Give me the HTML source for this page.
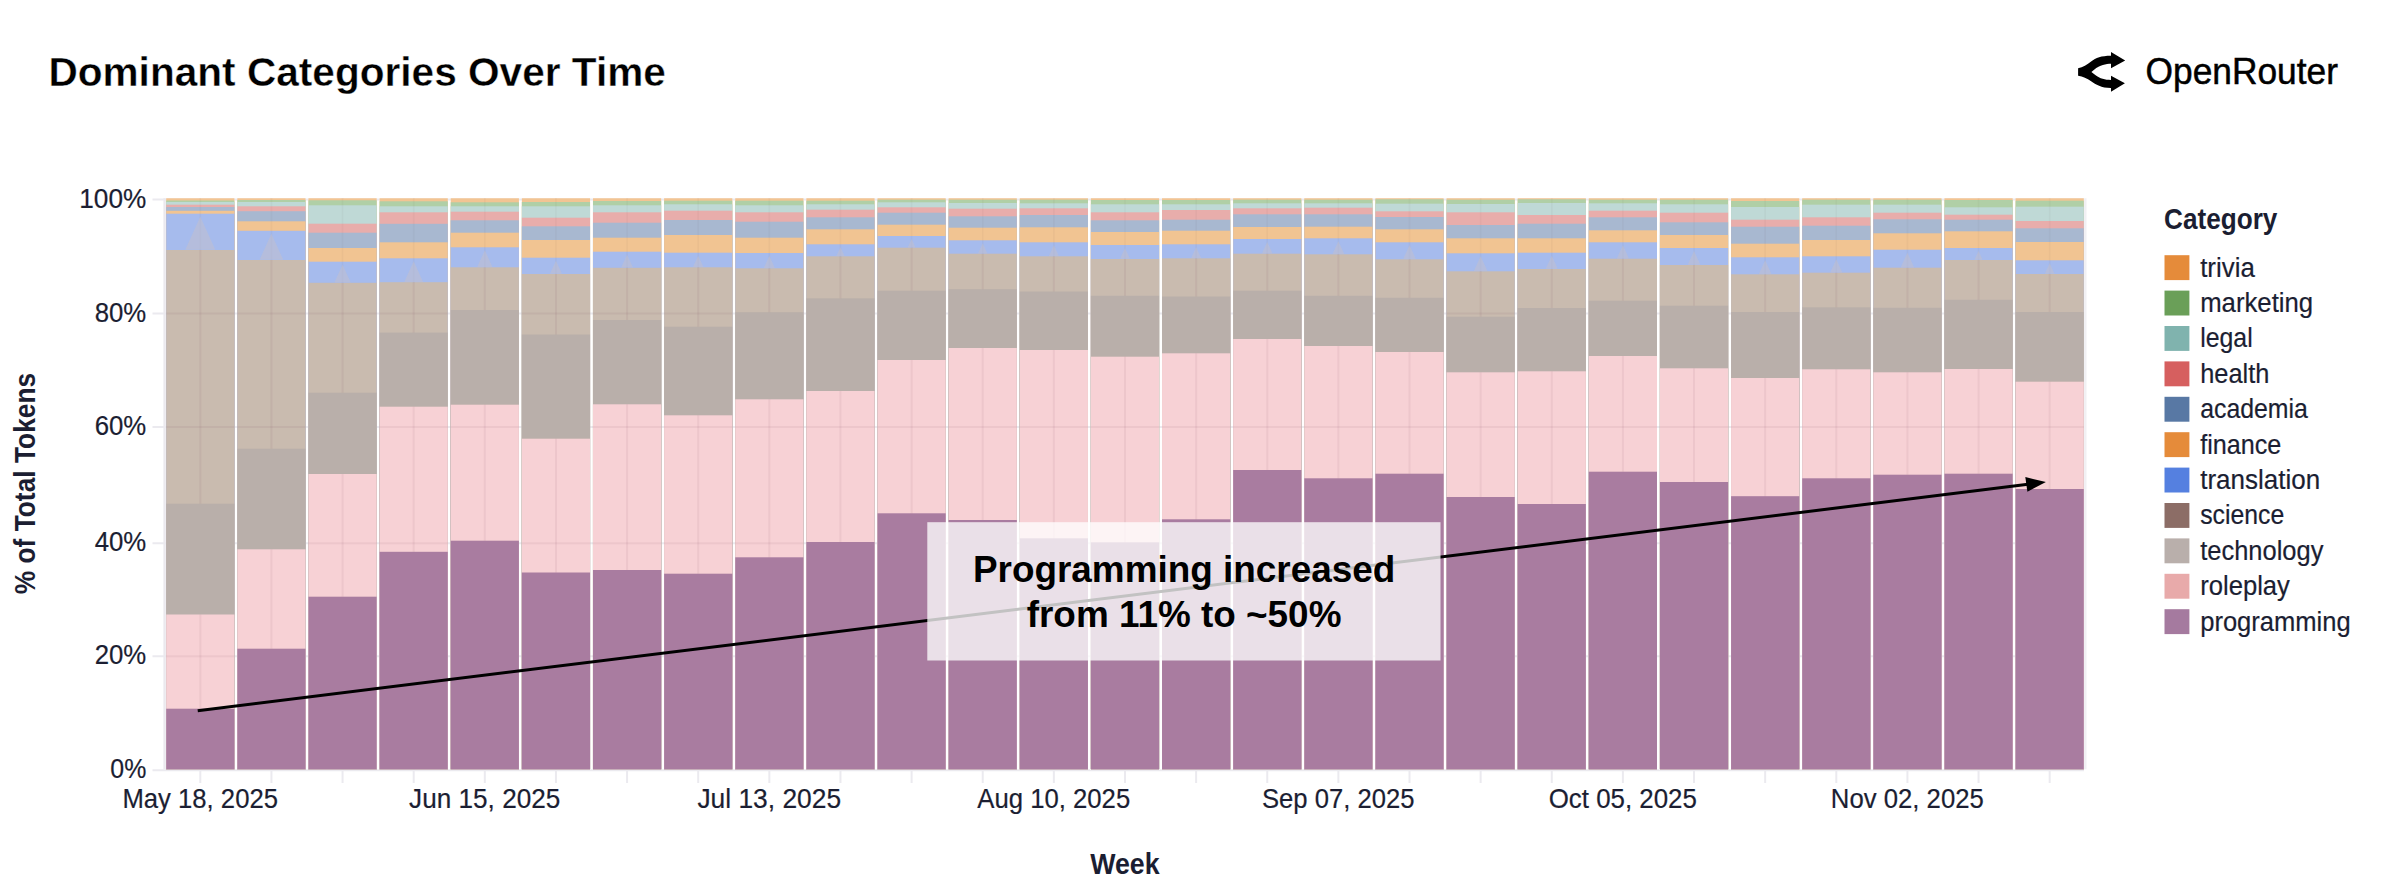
<!DOCTYPE html>
<html lang="en"><head><meta charset="utf-8"><title>Dominant Categories Over Time</title>
<style>
html,body{margin:0;padding:0;background:#fff;}
body{width:2386px;height:896px;overflow:hidden;position:relative;font-family:"Liberation Sans",sans-serif;}
svg{position:absolute;left:0;top:0;display:block;}
text{font-family:"Liberation Sans",sans-serif;}
.ax{fill:#1b1e32;font-size:26.9px;stroke:#1b1e32;stroke-width:0.2px;}
.axb{fill:#1b1e32;font-size:29.5px;font-weight:bold;}
</style></head><body>
<svg width="2386" height="896" viewBox="0 0 2386 896">
<rect x="0" y="0" width="2386" height="896" fill="#ffffff"/>
<text id="title" x="48.4" y="86.3" font-size="41.2" font-weight="bold" fill="#000" stroke="#fff" stroke-width="0.4" textLength="617.5" lengthAdjust="spacingAndGlyphs">Dominant Categories Over Time</text>
<g id="logo" fill="#000">
<path d="M2078.1 68.2 C2083 67.4 2087 64.8 2091.1 61.6 C2096 57.9 2101 55.85 2111 55.85 L2111 51.9 L2125.2 60.4 L2111 68.2 L2111 63.8 C2106 63.8 2100 65 2094.1 69.7 L2091.4 72.1 L2095.3 75.1 C2100 78.8 2105 80 2111 80 L2111 75.7 L2124.9 83.3 L2111 91.7 L2111 87.9 C2101 87.9 2096 84.6 2091.1 81.2 C2087 78.4 2083 76.4 2078.1 75.7 Z"/>
</g>
<text id="brand" x="2145.6" y="83.5" font-size="36.4" fill="#000" stroke="#000" stroke-width="0.5" textLength="192.3" lengthAdjust="spacingAndGlyphs">OpenRouter</text>
<g stroke="#ebeaef" stroke-width="2">
<line x1="152.5" x2="2084" y1="199.4" y2="199.4"/>
<line x1="152.5" x2="2084" y1="313.4" y2="313.4"/>
<line x1="152.5" x2="2084" y1="426.9" y2="426.9"/>
<line x1="152.5" x2="2084" y1="543.2" y2="543.2"/>
<line x1="152.5" x2="2084" y1="656.2" y2="656.2"/>
<line x1="152.5" x2="2084" y1="770.3" y2="770.3"/>
<line x1="200.3" x2="200.3" y1="198.2" y2="783"/>
<line x1="271.43" x2="271.43" y1="198.2" y2="783"/>
<line x1="342.56" x2="342.56" y1="198.2" y2="783"/>
<line x1="413.69" x2="413.69" y1="198.2" y2="783"/>
<line x1="484.82" x2="484.82" y1="198.2" y2="783"/>
<line x1="555.95" x2="555.95" y1="198.2" y2="783"/>
<line x1="627.08" x2="627.08" y1="198.2" y2="783"/>
<line x1="698.21" x2="698.21" y1="198.2" y2="783"/>
<line x1="769.34" x2="769.34" y1="198.2" y2="783"/>
<line x1="840.47" x2="840.47" y1="198.2" y2="783"/>
<line x1="911.6" x2="911.6" y1="198.2" y2="783"/>
<line x1="982.73" x2="982.73" y1="198.2" y2="783"/>
<line x1="1053.86" x2="1053.86" y1="198.2" y2="783"/>
<line x1="1124.99" x2="1124.99" y1="198.2" y2="783"/>
<line x1="1196.12" x2="1196.12" y1="198.2" y2="783"/>
<line x1="1267.25" x2="1267.25" y1="198.2" y2="783"/>
<line x1="1338.38" x2="1338.38" y1="198.2" y2="783"/>
<line x1="1409.51" x2="1409.51" y1="198.2" y2="783"/>
<line x1="1480.64" x2="1480.64" y1="198.2" y2="783"/>
<line x1="1551.77" x2="1551.77" y1="198.2" y2="783"/>
<line x1="1622.9" x2="1622.9" y1="198.2" y2="783"/>
<line x1="1694.03" x2="1694.03" y1="198.2" y2="783"/>
<line x1="1765.16" x2="1765.16" y1="198.2" y2="783"/>
<line x1="1836.29" x2="1836.29" y1="198.2" y2="783"/>
<line x1="1907.42" x2="1907.42" y1="198.2" y2="783"/>
<line x1="1978.55" x2="1978.55" y1="198.2" y2="783"/>
<line x1="2049.68" x2="2049.68" y1="198.2" y2="783"/>
<line x1="164.6" x2="164.6" y1="198.2" y2="769.2" stroke="#ebe9ee" stroke-width="2.4"/>
<line x1="2085.3" x2="2085.3" y1="198.2" y2="769.2" stroke="#f1f0f3" stroke-width="2.4"/>
</g>
<defs>
<clipPath id="c0"><rect x="166.2" y="198.2" width="68.2" height="571"/></clipPath>
<clipPath id="c1"><rect x="237.33" y="198.2" width="68.2" height="571"/></clipPath>
<clipPath id="c2"><rect x="308.46" y="198.2" width="68.2" height="571"/></clipPath>
<clipPath id="c3"><rect x="379.59" y="198.2" width="68.2" height="571"/></clipPath>
<clipPath id="c4"><rect x="450.72" y="198.2" width="68.2" height="571"/></clipPath>
<clipPath id="c5"><rect x="521.85" y="198.2" width="68.2" height="571"/></clipPath>
<clipPath id="c6"><rect x="592.98" y="198.2" width="68.2" height="571"/></clipPath>
<clipPath id="c7"><rect x="664.11" y="198.2" width="68.2" height="571"/></clipPath>
<clipPath id="c8"><rect x="735.24" y="198.2" width="68.2" height="571"/></clipPath>
<clipPath id="c9"><rect x="806.37" y="198.2" width="68.2" height="571"/></clipPath>
<clipPath id="c10"><rect x="877.5" y="198.2" width="68.2" height="571"/></clipPath>
<clipPath id="c11"><rect x="948.63" y="198.2" width="68.2" height="571"/></clipPath>
<clipPath id="c12"><rect x="1019.76" y="198.2" width="68.2" height="571"/></clipPath>
<clipPath id="c13"><rect x="1090.89" y="198.2" width="68.2" height="571"/></clipPath>
<clipPath id="c14"><rect x="1162.02" y="198.2" width="68.2" height="571"/></clipPath>
<clipPath id="c15"><rect x="1233.15" y="198.2" width="68.2" height="571"/></clipPath>
<clipPath id="c16"><rect x="1304.28" y="198.2" width="68.2" height="571"/></clipPath>
<clipPath id="c17"><rect x="1375.41" y="198.2" width="68.2" height="571"/></clipPath>
<clipPath id="c18"><rect x="1446.54" y="198.2" width="68.2" height="571"/></clipPath>
<clipPath id="c19"><rect x="1517.67" y="198.2" width="68.2" height="571"/></clipPath>
<clipPath id="c20"><rect x="1588.8" y="198.2" width="68.2" height="571"/></clipPath>
<clipPath id="c21"><rect x="1659.93" y="198.2" width="68.2" height="571"/></clipPath>
<clipPath id="c22"><rect x="1731.06" y="198.2" width="68.2" height="571"/></clipPath>
<clipPath id="c23"><rect x="1802.19" y="198.2" width="68.2" height="571"/></clipPath>
<clipPath id="c24"><rect x="1873.32" y="198.2" width="68.2" height="571"/></clipPath>
<clipPath id="c25"><rect x="1944.45" y="198.2" width="68.2" height="571"/></clipPath>
<clipPath id="c26"><rect x="2015.58" y="198.2" width="68.2" height="571"/></clipPath>
</defs>
<g id="bars">
<g clip-path="url(#c0)">
<rect x="163.2" y="196.2" width="74.2" height="575" fill="#f2c493"/>
<rect x="163.2" y="200.5" width="74.2" height="570.7" fill="#b0cfa6"/>
<rect x="163.2" y="202" width="74.2" height="569.2" fill="#bfd9d6"/>
<rect x="163.2" y="204.7" width="74.2" height="566.5" fill="#e8adab"/>
<rect x="163.2" y="207" width="74.2" height="564.2" fill="#a8b8d0"/>
<rect x="163.2" y="210.8" width="74.2" height="560.4" fill="#f1c492"/>
<rect x="163.2" y="213.7" width="74.2" height="557.5" fill="#a6bbed"/>
<rect x="163.2" y="250" width="74.2" height="521.2" fill="#c9bbaf"/>
<rect x="163.2" y="503.7" width="74.2" height="267.5" fill="#b9afaa"/>
<rect x="163.2" y="614.5" width="74.2" height="156.7" fill="#f7d1d5"/>
<rect x="163.2" y="708.7" width="74.2" height="62.5" fill="#a97ca0"/>
</g>
<g clip-path="url(#c1)">
<rect x="234.33" y="196.2" width="74.2" height="575" fill="#f2c493"/>
<rect x="234.33" y="200" width="74.2" height="571.2" fill="#b0cfa6"/>
<rect x="234.33" y="202" width="74.2" height="569.2" fill="#bfd9d6"/>
<rect x="234.33" y="206.3" width="74.2" height="564.9" fill="#e8adab"/>
<rect x="234.33" y="211.2" width="74.2" height="560" fill="#a8b8d0"/>
<rect x="234.33" y="221.3" width="74.2" height="549.9" fill="#f1c492"/>
<rect x="234.33" y="230.8" width="74.2" height="540.4" fill="#a6bbed"/>
<rect x="234.33" y="260" width="74.2" height="511.2" fill="#c9bbaf"/>
<rect x="234.33" y="448.7" width="74.2" height="322.5" fill="#b9afaa"/>
<rect x="234.33" y="549.3" width="74.2" height="221.9" fill="#f7d1d5"/>
<rect x="234.33" y="648.7" width="74.2" height="122.5" fill="#a97ca0"/>
</g>
<g clip-path="url(#c2)">
<rect x="305.46" y="196.2" width="74.2" height="575" fill="#f2c493"/>
<rect x="305.46" y="200.3" width="74.2" height="570.9" fill="#b0cfa6"/>
<rect x="305.46" y="205.3" width="74.2" height="565.9" fill="#bfd9d6"/>
<rect x="305.46" y="223.7" width="74.2" height="547.5" fill="#e8adab"/>
<rect x="305.46" y="232.7" width="74.2" height="538.5" fill="#a8b8d0"/>
<rect x="305.46" y="248" width="74.2" height="523.2" fill="#f1c492"/>
<rect x="305.46" y="261.7" width="74.2" height="509.5" fill="#a6bbed"/>
<rect x="305.46" y="282.8" width="74.2" height="488.4" fill="#c9bbaf"/>
<rect x="305.46" y="392.7" width="74.2" height="378.5" fill="#b9afaa"/>
<rect x="305.46" y="474" width="74.2" height="297.2" fill="#f7d1d5"/>
<rect x="305.46" y="596.7" width="74.2" height="174.5" fill="#a97ca0"/>
</g>
<g clip-path="url(#c3)">
<rect x="376.59" y="196.2" width="74.2" height="575" fill="#f2c493"/>
<rect x="376.59" y="201.3" width="74.2" height="569.9" fill="#b0cfa6"/>
<rect x="376.59" y="206.3" width="74.2" height="564.9" fill="#bfd9d6"/>
<rect x="376.59" y="212.3" width="74.2" height="558.9" fill="#e8adab"/>
<rect x="376.59" y="223.8" width="74.2" height="547.4" fill="#a8b8d0"/>
<rect x="376.59" y="242.3" width="74.2" height="528.9" fill="#f1c492"/>
<rect x="376.59" y="258.3" width="74.2" height="512.9" fill="#a6bbed"/>
<rect x="376.59" y="282.2" width="74.2" height="489" fill="#c9bbaf"/>
<rect x="376.59" y="332.6" width="74.2" height="438.6" fill="#b9afaa"/>
<rect x="376.59" y="406.7" width="74.2" height="364.5" fill="#f7d1d5"/>
<rect x="376.59" y="551.8" width="74.2" height="219.4" fill="#a97ca0"/>
</g>
<g clip-path="url(#c4)">
<rect x="447.72" y="196.2" width="74.2" height="575" fill="#f2c493"/>
<rect x="447.72" y="202.3" width="74.2" height="568.9" fill="#b0cfa6"/>
<rect x="447.72" y="206.3" width="74.2" height="564.9" fill="#bfd9d6"/>
<rect x="447.72" y="211.7" width="74.2" height="559.5" fill="#e8adab"/>
<rect x="447.72" y="220.3" width="74.2" height="550.9" fill="#a8b8d0"/>
<rect x="447.72" y="232.7" width="74.2" height="538.5" fill="#f1c492"/>
<rect x="447.72" y="247.3" width="74.2" height="523.9" fill="#a6bbed"/>
<rect x="447.72" y="267.3" width="74.2" height="503.9" fill="#c9bbaf"/>
<rect x="447.72" y="310" width="74.2" height="461.2" fill="#b9afaa"/>
<rect x="447.72" y="404.7" width="74.2" height="366.5" fill="#f7d1d5"/>
<rect x="447.72" y="540.7" width="74.2" height="230.5" fill="#a97ca0"/>
</g>
<g clip-path="url(#c5)">
<rect x="518.85" y="196.2" width="74.2" height="575" fill="#f2c493"/>
<rect x="518.85" y="202" width="74.2" height="569.2" fill="#b0cfa6"/>
<rect x="518.85" y="206.3" width="74.2" height="564.9" fill="#bfd9d6"/>
<rect x="518.85" y="217.7" width="74.2" height="553.5" fill="#e8adab"/>
<rect x="518.85" y="226.3" width="74.2" height="544.9" fill="#a8b8d0"/>
<rect x="518.85" y="240" width="74.2" height="531.2" fill="#f1c492"/>
<rect x="518.85" y="257.7" width="74.2" height="513.5" fill="#a6bbed"/>
<rect x="518.85" y="274" width="74.2" height="497.2" fill="#c9bbaf"/>
<rect x="518.85" y="334.5" width="74.2" height="436.7" fill="#b9afaa"/>
<rect x="518.85" y="438.7" width="74.2" height="332.5" fill="#f7d1d5"/>
<rect x="518.85" y="572.5" width="74.2" height="198.7" fill="#a97ca0"/>
</g>
<g clip-path="url(#c6)">
<rect x="589.98" y="196.2" width="74.2" height="575" fill="#f2c493"/>
<rect x="589.98" y="201" width="74.2" height="570.2" fill="#b0cfa6"/>
<rect x="589.98" y="205.3" width="74.2" height="565.9" fill="#bfd9d6"/>
<rect x="589.98" y="212.3" width="74.2" height="558.9" fill="#e8adab"/>
<rect x="589.98" y="222.7" width="74.2" height="548.5" fill="#a8b8d0"/>
<rect x="589.98" y="237.7" width="74.2" height="533.5" fill="#f1c492"/>
<rect x="589.98" y="251.7" width="74.2" height="519.5" fill="#a6bbed"/>
<rect x="589.98" y="267.8" width="74.2" height="503.4" fill="#c9bbaf"/>
<rect x="589.98" y="320" width="74.2" height="451.2" fill="#b9afaa"/>
<rect x="589.98" y="404.3" width="74.2" height="366.9" fill="#f7d1d5"/>
<rect x="589.98" y="570" width="74.2" height="201.2" fill="#a97ca0"/>
</g>
<g clip-path="url(#c7)">
<rect x="661.11" y="196.2" width="74.2" height="575" fill="#f2c493"/>
<rect x="661.11" y="200.7" width="74.2" height="570.5" fill="#b0cfa6"/>
<rect x="661.11" y="204.3" width="74.2" height="566.9" fill="#bfd9d6"/>
<rect x="661.11" y="210.7" width="74.2" height="560.5" fill="#e8adab"/>
<rect x="661.11" y="220" width="74.2" height="551.2" fill="#a8b8d0"/>
<rect x="661.11" y="235" width="74.2" height="536.2" fill="#f1c492"/>
<rect x="661.11" y="252.7" width="74.2" height="518.5" fill="#a6bbed"/>
<rect x="661.11" y="267.3" width="74.2" height="503.9" fill="#c9bbaf"/>
<rect x="661.11" y="326.7" width="74.2" height="444.5" fill="#b9afaa"/>
<rect x="661.11" y="415.3" width="74.2" height="355.9" fill="#f7d1d5"/>
<rect x="661.11" y="573.7" width="74.2" height="197.5" fill="#a97ca0"/>
</g>
<g clip-path="url(#c8)">
<rect x="732.24" y="196.2" width="74.2" height="575" fill="#f2c493"/>
<rect x="732.24" y="200.7" width="74.2" height="570.5" fill="#b0cfa6"/>
<rect x="732.24" y="205.3" width="74.2" height="565.9" fill="#bfd9d6"/>
<rect x="732.24" y="212.3" width="74.2" height="558.9" fill="#e8adab"/>
<rect x="732.24" y="221.7" width="74.2" height="549.5" fill="#a8b8d0"/>
<rect x="732.24" y="237.7" width="74.2" height="533.5" fill="#f1c492"/>
<rect x="732.24" y="253" width="74.2" height="518.2" fill="#a6bbed"/>
<rect x="732.24" y="268.3" width="74.2" height="502.9" fill="#c9bbaf"/>
<rect x="732.24" y="312.2" width="74.2" height="459" fill="#b9afaa"/>
<rect x="732.24" y="399.3" width="74.2" height="371.9" fill="#f7d1d5"/>
<rect x="732.24" y="557.3" width="74.2" height="213.9" fill="#a97ca0"/>
</g>
<g clip-path="url(#c9)">
<rect x="803.37" y="196.2" width="74.2" height="575" fill="#f2c493"/>
<rect x="803.37" y="200.7" width="74.2" height="570.5" fill="#b0cfa6"/>
<rect x="803.37" y="204.3" width="74.2" height="566.9" fill="#bfd9d6"/>
<rect x="803.37" y="209.7" width="74.2" height="561.5" fill="#e8adab"/>
<rect x="803.37" y="217.3" width="74.2" height="553.9" fill="#a8b8d0"/>
<rect x="803.37" y="229.3" width="74.2" height="541.9" fill="#f1c492"/>
<rect x="803.37" y="244.3" width="74.2" height="526.9" fill="#a6bbed"/>
<rect x="803.37" y="256.3" width="74.2" height="514.9" fill="#c9bbaf"/>
<rect x="803.37" y="298.3" width="74.2" height="472.9" fill="#b9afaa"/>
<rect x="803.37" y="391" width="74.2" height="380.2" fill="#f7d1d5"/>
<rect x="803.37" y="542" width="74.2" height="229.2" fill="#a97ca0"/>
</g>
<g clip-path="url(#c10)">
<rect x="874.5" y="196.2" width="74.2" height="575" fill="#f2c493"/>
<rect x="874.5" y="199.7" width="74.2" height="571.5" fill="#b0cfa6"/>
<rect x="874.5" y="202.3" width="74.2" height="568.9" fill="#bfd9d6"/>
<rect x="874.5" y="207.3" width="74.2" height="563.9" fill="#e8adab"/>
<rect x="874.5" y="212.7" width="74.2" height="558.5" fill="#a8b8d0"/>
<rect x="874.5" y="224.7" width="74.2" height="546.5" fill="#f1c492"/>
<rect x="874.5" y="236" width="74.2" height="535.2" fill="#a6bbed"/>
<rect x="874.5" y="247.7" width="74.2" height="523.5" fill="#c9bbaf"/>
<rect x="874.5" y="290.7" width="74.2" height="480.5" fill="#b9afaa"/>
<rect x="874.5" y="360" width="74.2" height="411.2" fill="#f7d1d5"/>
<rect x="874.5" y="513.3" width="74.2" height="257.9" fill="#a97ca0"/>
</g>
<g clip-path="url(#c11)">
<rect x="945.63" y="196.2" width="74.2" height="575" fill="#f2c493"/>
<rect x="945.63" y="199.7" width="74.2" height="571.5" fill="#b0cfa6"/>
<rect x="945.63" y="203" width="74.2" height="568.2" fill="#bfd9d6"/>
<rect x="945.63" y="208.7" width="74.2" height="562.5" fill="#e8adab"/>
<rect x="945.63" y="216.3" width="74.2" height="554.9" fill="#a8b8d0"/>
<rect x="945.63" y="227.7" width="74.2" height="543.5" fill="#f1c492"/>
<rect x="945.63" y="240.3" width="74.2" height="530.9" fill="#a6bbed"/>
<rect x="945.63" y="253.7" width="74.2" height="517.5" fill="#c9bbaf"/>
<rect x="945.63" y="289.2" width="74.2" height="482" fill="#b9afaa"/>
<rect x="945.63" y="348" width="74.2" height="423.2" fill="#f7d1d5"/>
<rect x="945.63" y="520" width="74.2" height="251.2" fill="#a97ca0"/>
</g>
<g clip-path="url(#c12)">
<rect x="1016.76" y="196.2" width="74.2" height="575" fill="#f2c493"/>
<rect x="1016.76" y="199.7" width="74.2" height="571.5" fill="#b0cfa6"/>
<rect x="1016.76" y="203.3" width="74.2" height="567.9" fill="#bfd9d6"/>
<rect x="1016.76" y="208.3" width="74.2" height="562.9" fill="#e8adab"/>
<rect x="1016.76" y="215" width="74.2" height="556.2" fill="#a8b8d0"/>
<rect x="1016.76" y="227.3" width="74.2" height="543.9" fill="#f1c492"/>
<rect x="1016.76" y="242.3" width="74.2" height="528.9" fill="#a6bbed"/>
<rect x="1016.76" y="256.3" width="74.2" height="514.9" fill="#c9bbaf"/>
<rect x="1016.76" y="291.5" width="74.2" height="479.7" fill="#b9afaa"/>
<rect x="1016.76" y="350" width="74.2" height="421.2" fill="#f7d1d5"/>
<rect x="1016.76" y="538.3" width="74.2" height="232.9" fill="#a97ca0"/>
</g>
<g clip-path="url(#c13)">
<rect x="1087.89" y="196.2" width="74.2" height="575" fill="#f2c493"/>
<rect x="1087.89" y="200" width="74.2" height="571.2" fill="#b0cfa6"/>
<rect x="1087.89" y="204.3" width="74.2" height="566.9" fill="#bfd9d6"/>
<rect x="1087.89" y="212.3" width="74.2" height="558.9" fill="#e8adab"/>
<rect x="1087.89" y="220.3" width="74.2" height="550.9" fill="#a8b8d0"/>
<rect x="1087.89" y="232" width="74.2" height="539.2" fill="#f1c492"/>
<rect x="1087.89" y="245" width="74.2" height="526.2" fill="#a6bbed"/>
<rect x="1087.89" y="259" width="74.2" height="512.2" fill="#c9bbaf"/>
<rect x="1087.89" y="295.8" width="74.2" height="475.4" fill="#b9afaa"/>
<rect x="1087.89" y="356.7" width="74.2" height="414.5" fill="#f7d1d5"/>
<rect x="1087.89" y="542.3" width="74.2" height="228.9" fill="#a97ca0"/>
</g>
<g clip-path="url(#c14)">
<rect x="1159.02" y="196.2" width="74.2" height="575" fill="#f2c493"/>
<rect x="1159.02" y="200" width="74.2" height="571.2" fill="#b0cfa6"/>
<rect x="1159.02" y="204.3" width="74.2" height="566.9" fill="#bfd9d6"/>
<rect x="1159.02" y="210" width="74.2" height="561.2" fill="#e8adab"/>
<rect x="1159.02" y="219.7" width="74.2" height="551.5" fill="#a8b8d0"/>
<rect x="1159.02" y="230.7" width="74.2" height="540.5" fill="#f1c492"/>
<rect x="1159.02" y="244.3" width="74.2" height="526.9" fill="#a6bbed"/>
<rect x="1159.02" y="258.3" width="74.2" height="512.9" fill="#c9bbaf"/>
<rect x="1159.02" y="296.5" width="74.2" height="474.7" fill="#b9afaa"/>
<rect x="1159.02" y="353.3" width="74.2" height="417.9" fill="#f7d1d5"/>
<rect x="1159.02" y="519.3" width="74.2" height="251.9" fill="#a97ca0"/>
</g>
<g clip-path="url(#c15)">
<rect x="1230.15" y="196.2" width="74.2" height="575" fill="#f2c493"/>
<rect x="1230.15" y="199.7" width="74.2" height="571.5" fill="#b0cfa6"/>
<rect x="1230.15" y="203.3" width="74.2" height="567.9" fill="#bfd9d6"/>
<rect x="1230.15" y="208.3" width="74.2" height="562.9" fill="#e8adab"/>
<rect x="1230.15" y="214.3" width="74.2" height="556.9" fill="#a8b8d0"/>
<rect x="1230.15" y="227" width="74.2" height="544.2" fill="#f1c492"/>
<rect x="1230.15" y="239" width="74.2" height="532.2" fill="#a6bbed"/>
<rect x="1230.15" y="253.7" width="74.2" height="517.5" fill="#c9bbaf"/>
<rect x="1230.15" y="290.7" width="74.2" height="480.5" fill="#b9afaa"/>
<rect x="1230.15" y="339" width="74.2" height="432.2" fill="#f7d1d5"/>
<rect x="1230.15" y="470" width="74.2" height="301.2" fill="#a97ca0"/>
</g>
<g clip-path="url(#c16)">
<rect x="1301.28" y="196.2" width="74.2" height="575" fill="#f2c493"/>
<rect x="1301.28" y="199.7" width="74.2" height="571.5" fill="#b0cfa6"/>
<rect x="1301.28" y="203.3" width="74.2" height="567.9" fill="#bfd9d6"/>
<rect x="1301.28" y="207.7" width="74.2" height="563.5" fill="#e8adab"/>
<rect x="1301.28" y="214.3" width="74.2" height="556.9" fill="#a8b8d0"/>
<rect x="1301.28" y="226.7" width="74.2" height="544.5" fill="#f1c492"/>
<rect x="1301.28" y="238.3" width="74.2" height="532.9" fill="#a6bbed"/>
<rect x="1301.28" y="254.3" width="74.2" height="516.9" fill="#c9bbaf"/>
<rect x="1301.28" y="295.8" width="74.2" height="475.4" fill="#b9afaa"/>
<rect x="1301.28" y="346" width="74.2" height="425.2" fill="#f7d1d5"/>
<rect x="1301.28" y="478.3" width="74.2" height="292.9" fill="#a97ca0"/>
</g>
<g clip-path="url(#c17)">
<rect x="1372.41" y="196.2" width="74.2" height="575" fill="#f2c493"/>
<rect x="1372.41" y="199.3" width="74.2" height="571.9" fill="#b0cfa6"/>
<rect x="1372.41" y="203.7" width="74.2" height="567.5" fill="#bfd9d6"/>
<rect x="1372.41" y="211.3" width="74.2" height="559.9" fill="#e8adab"/>
<rect x="1372.41" y="217" width="74.2" height="554.2" fill="#a8b8d0"/>
<rect x="1372.41" y="229.3" width="74.2" height="541.9" fill="#f1c492"/>
<rect x="1372.41" y="242.3" width="74.2" height="528.9" fill="#a6bbed"/>
<rect x="1372.41" y="259.3" width="74.2" height="511.9" fill="#c9bbaf"/>
<rect x="1372.41" y="297.8" width="74.2" height="473.4" fill="#b9afaa"/>
<rect x="1372.41" y="352" width="74.2" height="419.2" fill="#f7d1d5"/>
<rect x="1372.41" y="473.7" width="74.2" height="297.5" fill="#a97ca0"/>
</g>
<g clip-path="url(#c18)">
<rect x="1443.54" y="196.2" width="74.2" height="575" fill="#f2c493"/>
<rect x="1443.54" y="199.7" width="74.2" height="571.5" fill="#b0cfa6"/>
<rect x="1443.54" y="204" width="74.2" height="567.2" fill="#bfd9d6"/>
<rect x="1443.54" y="212.3" width="74.2" height="558.9" fill="#e8adab"/>
<rect x="1443.54" y="225" width="74.2" height="546.2" fill="#a8b8d0"/>
<rect x="1443.54" y="238.3" width="74.2" height="532.9" fill="#f1c492"/>
<rect x="1443.54" y="253.3" width="74.2" height="517.9" fill="#a6bbed"/>
<rect x="1443.54" y="271.3" width="74.2" height="499.9" fill="#c9bbaf"/>
<rect x="1443.54" y="316.7" width="74.2" height="454.5" fill="#b9afaa"/>
<rect x="1443.54" y="372.3" width="74.2" height="398.9" fill="#f7d1d5"/>
<rect x="1443.54" y="497" width="74.2" height="274.2" fill="#a97ca0"/>
</g>
<g clip-path="url(#c19)">
<rect x="1514.67" y="196.2" width="74.2" height="575" fill="#f2c493"/>
<rect x="1514.67" y="199.3" width="74.2" height="571.9" fill="#b0cfa6"/>
<rect x="1514.67" y="203" width="74.2" height="568.2" fill="#bfd9d6"/>
<rect x="1514.67" y="215" width="74.2" height="556.2" fill="#e8adab"/>
<rect x="1514.67" y="223.7" width="74.2" height="547.5" fill="#a8b8d0"/>
<rect x="1514.67" y="238.3" width="74.2" height="532.9" fill="#f1c492"/>
<rect x="1514.67" y="252.7" width="74.2" height="518.5" fill="#a6bbed"/>
<rect x="1514.67" y="269" width="74.2" height="502.2" fill="#c9bbaf"/>
<rect x="1514.67" y="308" width="74.2" height="463.2" fill="#b9afaa"/>
<rect x="1514.67" y="371.3" width="74.2" height="399.9" fill="#f7d1d5"/>
<rect x="1514.67" y="504" width="74.2" height="267.2" fill="#a97ca0"/>
</g>
<g clip-path="url(#c20)">
<rect x="1585.8" y="196.2" width="74.2" height="575" fill="#f2c493"/>
<rect x="1585.8" y="199.7" width="74.2" height="571.5" fill="#b0cfa6"/>
<rect x="1585.8" y="203.3" width="74.2" height="567.9" fill="#bfd9d6"/>
<rect x="1585.8" y="210.7" width="74.2" height="560.5" fill="#e8adab"/>
<rect x="1585.8" y="217.3" width="74.2" height="553.9" fill="#a8b8d0"/>
<rect x="1585.8" y="230.3" width="74.2" height="540.9" fill="#f1c492"/>
<rect x="1585.8" y="242.3" width="74.2" height="528.9" fill="#a6bbed"/>
<rect x="1585.8" y="258.7" width="74.2" height="512.5" fill="#c9bbaf"/>
<rect x="1585.8" y="300.7" width="74.2" height="470.5" fill="#b9afaa"/>
<rect x="1585.8" y="356" width="74.2" height="415.2" fill="#f7d1d5"/>
<rect x="1585.8" y="471.7" width="74.2" height="299.5" fill="#a97ca0"/>
</g>
<g clip-path="url(#c21)">
<rect x="1656.93" y="196.2" width="74.2" height="575" fill="#f2c493"/>
<rect x="1656.93" y="199.7" width="74.2" height="571.5" fill="#b0cfa6"/>
<rect x="1656.93" y="204.3" width="74.2" height="566.9" fill="#bfd9d6"/>
<rect x="1656.93" y="212.7" width="74.2" height="558.5" fill="#e8adab"/>
<rect x="1656.93" y="222.3" width="74.2" height="548.9" fill="#a8b8d0"/>
<rect x="1656.93" y="235" width="74.2" height="536.2" fill="#f1c492"/>
<rect x="1656.93" y="248" width="74.2" height="523.2" fill="#a6bbed"/>
<rect x="1656.93" y="265" width="74.2" height="506.2" fill="#c9bbaf"/>
<rect x="1656.93" y="305.7" width="74.2" height="465.5" fill="#b9afaa"/>
<rect x="1656.93" y="368.3" width="74.2" height="402.9" fill="#f7d1d5"/>
<rect x="1656.93" y="482" width="74.2" height="289.2" fill="#a97ca0"/>
</g>
<g clip-path="url(#c22)">
<rect x="1728.06" y="196.2" width="74.2" height="575" fill="#f2c493"/>
<rect x="1728.06" y="201" width="74.2" height="570.2" fill="#b0cfa6"/>
<rect x="1728.06" y="207" width="74.2" height="564.2" fill="#bfd9d6"/>
<rect x="1728.06" y="219.7" width="74.2" height="551.5" fill="#e8adab"/>
<rect x="1728.06" y="226.7" width="74.2" height="544.5" fill="#a8b8d0"/>
<rect x="1728.06" y="243.7" width="74.2" height="527.5" fill="#f1c492"/>
<rect x="1728.06" y="257.3" width="74.2" height="513.9" fill="#a6bbed"/>
<rect x="1728.06" y="274.3" width="74.2" height="496.9" fill="#c9bbaf"/>
<rect x="1728.06" y="312" width="74.2" height="459.2" fill="#b9afaa"/>
<rect x="1728.06" y="378" width="74.2" height="393.2" fill="#f7d1d5"/>
<rect x="1728.06" y="496.2" width="74.2" height="275" fill="#a97ca0"/>
</g>
<g clip-path="url(#c23)">
<rect x="1799.19" y="196.2" width="74.2" height="575" fill="#f2c493"/>
<rect x="1799.19" y="199.7" width="74.2" height="571.5" fill="#b0cfa6"/>
<rect x="1799.19" y="204.7" width="74.2" height="566.5" fill="#bfd9d6"/>
<rect x="1799.19" y="217.3" width="74.2" height="553.9" fill="#e8adab"/>
<rect x="1799.19" y="225.7" width="74.2" height="545.5" fill="#a8b8d0"/>
<rect x="1799.19" y="240" width="74.2" height="531.2" fill="#f1c492"/>
<rect x="1799.19" y="256.3" width="74.2" height="514.9" fill="#a6bbed"/>
<rect x="1799.19" y="272.7" width="74.2" height="498.5" fill="#c9bbaf"/>
<rect x="1799.19" y="307.3" width="74.2" height="463.9" fill="#b9afaa"/>
<rect x="1799.19" y="369.3" width="74.2" height="401.9" fill="#f7d1d5"/>
<rect x="1799.19" y="478.3" width="74.2" height="292.9" fill="#a97ca0"/>
</g>
<g clip-path="url(#c24)">
<rect x="1870.32" y="196.2" width="74.2" height="575" fill="#f2c493"/>
<rect x="1870.32" y="199.7" width="74.2" height="571.5" fill="#b0cfa6"/>
<rect x="1870.32" y="204.7" width="74.2" height="566.5" fill="#bfd9d6"/>
<rect x="1870.32" y="212.7" width="74.2" height="558.5" fill="#e8adab"/>
<rect x="1870.32" y="219.3" width="74.2" height="551.9" fill="#a8b8d0"/>
<rect x="1870.32" y="233.3" width="74.2" height="537.9" fill="#f1c492"/>
<rect x="1870.32" y="249.7" width="74.2" height="521.5" fill="#a6bbed"/>
<rect x="1870.32" y="267.7" width="74.2" height="503.5" fill="#c9bbaf"/>
<rect x="1870.32" y="307.8" width="74.2" height="463.4" fill="#b9afaa"/>
<rect x="1870.32" y="372.3" width="74.2" height="398.9" fill="#f7d1d5"/>
<rect x="1870.32" y="474.7" width="74.2" height="296.5" fill="#a97ca0"/>
</g>
<g clip-path="url(#c25)">
<rect x="1941.45" y="196.2" width="74.2" height="575" fill="#f2c493"/>
<rect x="1941.45" y="200" width="74.2" height="571.2" fill="#b0cfa6"/>
<rect x="1941.45" y="207.3" width="74.2" height="563.9" fill="#bfd9d6"/>
<rect x="1941.45" y="214.7" width="74.2" height="556.5" fill="#e8adab"/>
<rect x="1941.45" y="219.7" width="74.2" height="551.5" fill="#a8b8d0"/>
<rect x="1941.45" y="231.3" width="74.2" height="539.9" fill="#f1c492"/>
<rect x="1941.45" y="248" width="74.2" height="523.2" fill="#a6bbed"/>
<rect x="1941.45" y="260" width="74.2" height="511.2" fill="#c9bbaf"/>
<rect x="1941.45" y="299.8" width="74.2" height="471.4" fill="#b9afaa"/>
<rect x="1941.45" y="369" width="74.2" height="402.2" fill="#f7d1d5"/>
<rect x="1941.45" y="473.7" width="74.2" height="297.5" fill="#a97ca0"/>
</g>
<g clip-path="url(#c26)">
<rect x="2012.58" y="196.2" width="74.2" height="575" fill="#f2c493"/>
<rect x="2012.58" y="200.7" width="74.2" height="570.5" fill="#b0cfa6"/>
<rect x="2012.58" y="206.7" width="74.2" height="564.5" fill="#bfd9d6"/>
<rect x="2012.58" y="221" width="74.2" height="550.2" fill="#e8adab"/>
<rect x="2012.58" y="228.3" width="74.2" height="542.9" fill="#a8b8d0"/>
<rect x="2012.58" y="242" width="74.2" height="529.2" fill="#f1c492"/>
<rect x="2012.58" y="260.3" width="74.2" height="510.9" fill="#a6bbed"/>
<rect x="2012.58" y="274" width="74.2" height="497.2" fill="#c9bbaf"/>
<rect x="2012.58" y="312" width="74.2" height="459.2" fill="#b9afaa"/>
<rect x="2012.58" y="381.7" width="74.2" height="389.5" fill="#f7d1d5"/>
<rect x="2012.58" y="489" width="74.2" height="282.2" fill="#a97ca0"/>
</g>
</g>
<g id="through" stroke="#6a3050" stroke-opacity="0.065" stroke-width="2">
<line x1="200.3" x2="200.3" y1="250" y2="503.7"/>
<line x1="166.2" x2="234.4" y1="313.4" y2="313.4"/>
<line x1="166.2" x2="234.4" y1="426.9" y2="426.9"/>
<line x1="200.3" x2="200.3" y1="614.5" y2="708.7"/>
<line x1="166.2" x2="234.4" y1="656.2" y2="656.2"/>
<line x1="271.43" x2="271.43" y1="260" y2="448.7"/>
<line x1="237.33" x2="305.53" y1="313.4" y2="313.4"/>
<line x1="237.33" x2="305.53" y1="426.9" y2="426.9"/>
<line x1="271.43" x2="271.43" y1="549.3" y2="648.7"/>
<line x1="342.56" x2="342.56" y1="282.8" y2="392.7"/>
<line x1="308.46" x2="376.66" y1="313.4" y2="313.4"/>
<line x1="342.56" x2="342.56" y1="474" y2="596.7"/>
<line x1="308.46" x2="376.66" y1="543.2" y2="543.2"/>
<line x1="413.69" x2="413.69" y1="282.2" y2="332.6"/>
<line x1="379.59" x2="447.79" y1="313.4" y2="313.4"/>
<line x1="413.69" x2="413.69" y1="406.7" y2="551.8"/>
<line x1="379.59" x2="447.79" y1="426.9" y2="426.9"/>
<line x1="379.59" x2="447.79" y1="543.2" y2="543.2"/>
<line x1="484.82" x2="484.82" y1="267.3" y2="310"/>
<line x1="484.82" x2="484.82" y1="404.7" y2="540.7"/>
<line x1="450.72" x2="518.92" y1="426.9" y2="426.9"/>
<line x1="555.95" x2="555.95" y1="274" y2="334.5"/>
<line x1="521.85" x2="590.05" y1="313.4" y2="313.4"/>
<line x1="555.95" x2="555.95" y1="438.7" y2="572.5"/>
<line x1="521.85" x2="590.05" y1="543.2" y2="543.2"/>
<line x1="627.08" x2="627.08" y1="267.8" y2="320"/>
<line x1="592.98" x2="661.18" y1="313.4" y2="313.4"/>
<line x1="627.08" x2="627.08" y1="404.3" y2="570"/>
<line x1="592.98" x2="661.18" y1="426.9" y2="426.9"/>
<line x1="592.98" x2="661.18" y1="543.2" y2="543.2"/>
<line x1="698.21" x2="698.21" y1="267.3" y2="326.7"/>
<line x1="664.11" x2="732.31" y1="313.4" y2="313.4"/>
<line x1="698.21" x2="698.21" y1="415.3" y2="573.7"/>
<line x1="664.11" x2="732.31" y1="426.9" y2="426.9"/>
<line x1="664.11" x2="732.31" y1="543.2" y2="543.2"/>
<line x1="769.34" x2="769.34" y1="268.3" y2="312.2"/>
<line x1="769.34" x2="769.34" y1="399.3" y2="557.3"/>
<line x1="735.24" x2="803.44" y1="426.9" y2="426.9"/>
<line x1="735.24" x2="803.44" y1="543.2" y2="543.2"/>
<line x1="840.47" x2="840.47" y1="256.3" y2="298.3"/>
<line x1="840.47" x2="840.47" y1="391" y2="542"/>
<line x1="806.37" x2="874.57" y1="426.9" y2="426.9"/>
<line x1="911.6" x2="911.6" y1="247.7" y2="290.7"/>
<line x1="911.6" x2="911.6" y1="360" y2="513.3"/>
<line x1="877.5" x2="945.7" y1="426.9" y2="426.9"/>
<line x1="982.73" x2="982.73" y1="253.7" y2="289.2"/>
<line x1="982.73" x2="982.73" y1="348" y2="520"/>
<line x1="948.63" x2="1016.83" y1="426.9" y2="426.9"/>
<line x1="1053.86" x2="1053.86" y1="256.3" y2="291.5"/>
<line x1="1053.86" x2="1053.86" y1="350" y2="538.3"/>
<line x1="1019.76" x2="1087.96" y1="426.9" y2="426.9"/>
<line x1="1124.99" x2="1124.99" y1="259" y2="295.8"/>
<line x1="1124.99" x2="1124.99" y1="356.7" y2="542.3"/>
<line x1="1090.89" x2="1159.09" y1="426.9" y2="426.9"/>
<line x1="1196.12" x2="1196.12" y1="258.3" y2="296.5"/>
<line x1="1196.12" x2="1196.12" y1="353.3" y2="519.3"/>
<line x1="1162.02" x2="1230.22" y1="426.9" y2="426.9"/>
<line x1="1267.25" x2="1267.25" y1="253.7" y2="290.7"/>
<line x1="1267.25" x2="1267.25" y1="339" y2="470"/>
<line x1="1233.15" x2="1301.35" y1="426.9" y2="426.9"/>
<line x1="1338.38" x2="1338.38" y1="254.3" y2="295.8"/>
<line x1="1338.38" x2="1338.38" y1="346" y2="478.3"/>
<line x1="1304.28" x2="1372.48" y1="426.9" y2="426.9"/>
<line x1="1409.51" x2="1409.51" y1="259.3" y2="297.8"/>
<line x1="1409.51" x2="1409.51" y1="352" y2="473.7"/>
<line x1="1375.41" x2="1443.61" y1="426.9" y2="426.9"/>
<line x1="1480.64" x2="1480.64" y1="271.3" y2="316.7"/>
<line x1="1446.54" x2="1514.74" y1="313.4" y2="313.4"/>
<line x1="1480.64" x2="1480.64" y1="372.3" y2="497"/>
<line x1="1446.54" x2="1514.74" y1="426.9" y2="426.9"/>
<line x1="1551.77" x2="1551.77" y1="269" y2="308"/>
<line x1="1551.77" x2="1551.77" y1="371.3" y2="504"/>
<line x1="1517.67" x2="1585.87" y1="426.9" y2="426.9"/>
<line x1="1622.9" x2="1622.9" y1="258.7" y2="300.7"/>
<line x1="1622.9" x2="1622.9" y1="356" y2="471.7"/>
<line x1="1588.8" x2="1657" y1="426.9" y2="426.9"/>
<line x1="1694.03" x2="1694.03" y1="265" y2="305.7"/>
<line x1="1694.03" x2="1694.03" y1="368.3" y2="482"/>
<line x1="1659.93" x2="1728.13" y1="426.9" y2="426.9"/>
<line x1="1765.16" x2="1765.16" y1="274.3" y2="312"/>
<line x1="1765.16" x2="1765.16" y1="378" y2="496.2"/>
<line x1="1731.06" x2="1799.26" y1="426.9" y2="426.9"/>
<line x1="1836.29" x2="1836.29" y1="272.7" y2="307.3"/>
<line x1="1836.29" x2="1836.29" y1="369.3" y2="478.3"/>
<line x1="1802.19" x2="1870.39" y1="426.9" y2="426.9"/>
<line x1="1907.42" x2="1907.42" y1="267.7" y2="307.8"/>
<line x1="1907.42" x2="1907.42" y1="372.3" y2="474.7"/>
<line x1="1873.32" x2="1941.52" y1="426.9" y2="426.9"/>
<line x1="1978.55" x2="1978.55" y1="260" y2="299.8"/>
<line x1="1978.55" x2="1978.55" y1="369" y2="473.7"/>
<line x1="1944.45" x2="2012.65" y1="426.9" y2="426.9"/>
<line x1="2049.68" x2="2049.68" y1="274" y2="312"/>
<line x1="2049.68" x2="2049.68" y1="381.7" y2="489"/>
<line x1="2015.58" x2="2083.78" y1="426.9" y2="426.9"/>
</g>
<g id="through2" stroke="#5a4050" stroke-opacity="0.045" stroke-width="1.6">
<line x1="200.3" x2="200.3" y1="198.2" y2="250"/>
<line x1="271.43" x2="271.43" y1="198.2" y2="260"/>
<line x1="342.56" x2="342.56" y1="198.2" y2="282.8"/>
<line x1="413.69" x2="413.69" y1="198.2" y2="282.2"/>
<line x1="484.82" x2="484.82" y1="198.2" y2="267.3"/>
<line x1="555.95" x2="555.95" y1="198.2" y2="274"/>
<line x1="627.08" x2="627.08" y1="198.2" y2="267.8"/>
<line x1="698.21" x2="698.21" y1="198.2" y2="267.3"/>
<line x1="769.34" x2="769.34" y1="198.2" y2="268.3"/>
<line x1="840.47" x2="840.47" y1="198.2" y2="256.3"/>
<line x1="911.6" x2="911.6" y1="198.2" y2="247.7"/>
<line x1="982.73" x2="982.73" y1="198.2" y2="253.7"/>
<line x1="1053.86" x2="1053.86" y1="198.2" y2="256.3"/>
<line x1="1124.99" x2="1124.99" y1="198.2" y2="259"/>
<line x1="1196.12" x2="1196.12" y1="198.2" y2="258.3"/>
<line x1="1267.25" x2="1267.25" y1="198.2" y2="253.7"/>
<line x1="1338.38" x2="1338.38" y1="198.2" y2="254.3"/>
<line x1="1409.51" x2="1409.51" y1="198.2" y2="259.3"/>
<line x1="1480.64" x2="1480.64" y1="198.2" y2="271.3"/>
<line x1="1551.77" x2="1551.77" y1="198.2" y2="269"/>
<line x1="1622.9" x2="1622.9" y1="198.2" y2="258.7"/>
<line x1="1694.03" x2="1694.03" y1="198.2" y2="265"/>
<line x1="1765.16" x2="1765.16" y1="198.2" y2="274.3"/>
<line x1="1836.29" x2="1836.29" y1="198.2" y2="272.7"/>
<line x1="1907.42" x2="1907.42" y1="198.2" y2="267.7"/>
<line x1="1978.55" x2="1978.55" y1="198.2" y2="260"/>
<line x1="2049.68" x2="2049.68" y1="198.2" y2="274"/>
</g>
<g id="tri" fill="#c8c2c8" fill-opacity="0.45">
<path d="M200.3 216.7 L215.29 249.7 L185.31 249.7 Z"/>
<path d="M271.43 233.8 L283.22 259.7 L259.64 259.7 Z"/>
<path d="M342.56 264.7 L350.71 282.5 L334.41 282.5 Z"/>
<path d="M413.69 261.3 L423.09 281.9 L404.29 281.9 Z"/>
<path d="M484.82 250.3 L492.47 267 L477.17 267 Z"/>
<path d="M555.95 260.7 L561.94 273.7 L549.97 273.7 Z"/>
<path d="M627.08 254.7 L632.97 267.5 L621.18 267.5 Z"/>
<path d="M698.21 255.7 L703.43 267 L692.99 267 Z"/>
<path d="M769.34 256 L774.87 268 L763.8 268 Z"/>
<path d="M840.47 247.3 L844.52 256 L836.42 256 Z"/>
<path d="M911.6 239 L915.51 247.4 L907.68 247.4 Z"/>
<path d="M982.73 243.3 L987.41 253.4 L978.05 253.4 Z"/>
<path d="M1053.86 245.3 L1058.81 256 L1048.91 256 Z"/>
<path d="M1124.99 248 L1129.94 258.7 L1120.04 258.7 Z"/>
<path d="M1196.12 247.3 L1201.07 258 L1191.17 258 Z"/>
<path d="M1267.25 242 L1272.51 253.4 L1261.98 253.4 Z"/>
<path d="M1338.38 241.3 L1344.23 254 L1332.53 254 Z"/>
<path d="M1409.51 245.3 L1415.81 259 L1403.21 259 Z"/>
<path d="M1480.64 256.3 L1487.39 271 L1473.89 271 Z"/>
<path d="M1551.77 255.7 L1557.75 268.7 L1545.78 268.7 Z"/>
<path d="M1622.9 245.3 L1628.93 258.4 L1616.87 258.4 Z"/>
<path d="M1694.03 251 L1700.33 264.7 L1687.73 264.7 Z"/>
<path d="M1765.16 260.3 L1771.46 274 L1758.86 274 Z"/>
<path d="M1836.29 259.3 L1842.32 272.4 L1830.26 272.4 Z"/>
<path d="M1907.42 252.7 L1914.17 267.4 L1900.67 267.4 Z"/>
<path d="M1978.55 251 L1982.6 259.7 L1974.5 259.7 Z"/>
<path d="M2049.68 263.3 L2054.49 273.7 L2044.86 273.7 Z"/>
</g>
<g id="arrow">
<line x1="197.7" y1="710.7" x2="2028" y2="484.3" stroke="#000" stroke-width="3"/>
<path d="M2045.9 482.1 L2025.3 477 L2027.4 491.7 Z" fill="#000"/>
</g>
<rect x="927.3" y="522.2" width="513.2" height="138.3" fill="#ffffff" fill-opacity="0.76"/>
<text id="ann1" x="1184.1" y="582.2" text-anchor="middle" font-size="36.9" font-weight="bold" fill="#000">Programming increased</text>
<text id="ann2" x="1184.1" y="626.6" text-anchor="middle" font-size="36.9" font-weight="bold" fill="#000">from 11% to ~50%</text>
<text class="ax" x="79.3" y="207.5" textLength="67" lengthAdjust="spacingAndGlyphs">100%</text>
<text class="ax" x="94.7" y="321.5" textLength="51.6" lengthAdjust="spacingAndGlyphs">80%</text>
<text class="ax" x="94.7" y="435" textLength="51.6" lengthAdjust="spacingAndGlyphs">60%</text>
<text class="ax" x="94.7" y="551.3" textLength="51.6" lengthAdjust="spacingAndGlyphs">40%</text>
<text class="ax" x="94.7" y="664.3" textLength="51.6" lengthAdjust="spacingAndGlyphs">20%</text>
<text class="ax" x="110.3" y="778.4" textLength="36" lengthAdjust="spacingAndGlyphs">0%</text>
<text class="axb" id="ytitle" transform="translate(35.2,594.3) rotate(-90)" textLength="221.5" lengthAdjust="spacingAndGlyphs">% of Total Tokens</text>
<text class="ax" x="122.4" y="808.2" textLength="155.6" lengthAdjust="spacingAndGlyphs">May 18, 2025</text>
<text class="ax" x="409.12" y="808.2" textLength="151.2" lengthAdjust="spacingAndGlyphs">Jun 15, 2025</text>
<text class="ax" x="697.39" y="808.2" textLength="143.7" lengthAdjust="spacingAndGlyphs">Jul 13, 2025</text>
<text class="ax" x="977.31" y="808.2" textLength="152.9" lengthAdjust="spacingAndGlyphs">Aug 10, 2025</text>
<text class="ax" x="1262.03" y="808.2" textLength="152.5" lengthAdjust="spacingAndGlyphs">Sep 07, 2025</text>
<text class="ax" x="1548.7" y="808.2" textLength="148.2" lengthAdjust="spacingAndGlyphs">Oct 05, 2025</text>
<text class="ax" x="1830.82" y="808.2" textLength="153" lengthAdjust="spacingAndGlyphs">Nov 02, 2025</text>
<text class="axb" id="xtitle" x="1090.2" y="874.2" textLength="69.4" lengthAdjust="spacingAndGlyphs">Week</text>
<text class="axb" id="legtitle" x="2164" y="228.6" textLength="113.4" lengthAdjust="spacingAndGlyphs">Category</text>
<rect x="2164.5" y="255.2" width="24.9" height="24.9" fill="#e58b3a"/>
<text class="ax" x="2200.2" y="276.6" textLength="54.6" lengthAdjust="spacingAndGlyphs">trivia</text>
<rect x="2164.5" y="290.6" width="24.9" height="24.9" fill="#6a9f58"/>
<text class="ax" x="2200.2" y="312" textLength="113" lengthAdjust="spacingAndGlyphs">marketing</text>
<rect x="2164.5" y="326" width="24.9" height="24.9" fill="#80b3ae"/>
<text class="ax" x="2200.2" y="347.4" textLength="52.5" lengthAdjust="spacingAndGlyphs">legal</text>
<rect x="2164.5" y="361.4" width="24.9" height="24.9" fill="#d65f5f"/>
<text class="ax" x="2200.2" y="382.8" textLength="69.1" lengthAdjust="spacingAndGlyphs">health</text>
<rect x="2164.5" y="396.8" width="24.9" height="24.9" fill="#5878a4"/>
<text class="ax" x="2200.2" y="418.2" textLength="107.7" lengthAdjust="spacingAndGlyphs">academia</text>
<rect x="2164.5" y="432.2" width="24.9" height="24.9" fill="#e58b3a"/>
<text class="ax" x="2200.2" y="453.6" textLength="81.1" lengthAdjust="spacingAndGlyphs">finance</text>
<rect x="2164.5" y="467.6" width="24.9" height="24.9" fill="#5580e0"/>
<text class="ax" x="2200.2" y="489" textLength="120" lengthAdjust="spacingAndGlyphs">translation</text>
<rect x="2164.5" y="503" width="24.9" height="24.9" fill="#8c6d66"/>
<text class="ax" x="2200.2" y="524.4" textLength="84.1" lengthAdjust="spacingAndGlyphs">science</text>
<rect x="2164.5" y="538.4" width="24.9" height="24.9" fill="#b9afab"/>
<text class="ax" x="2200.2" y="559.8" textLength="123.2" lengthAdjust="spacingAndGlyphs">technology</text>
<rect x="2164.5" y="573.8" width="24.9" height="24.9" fill="#e8aaaa"/>
<text class="ax" x="2200.2" y="595.2" textLength="89.7" lengthAdjust="spacingAndGlyphs">roleplay</text>
<rect x="2164.5" y="609.2" width="24.9" height="24.9" fill="#a57a9f"/>
<text class="ax" x="2200.2" y="630.6" textLength="150.5" lengthAdjust="spacingAndGlyphs">programming</text>
</svg>
</body></html>
